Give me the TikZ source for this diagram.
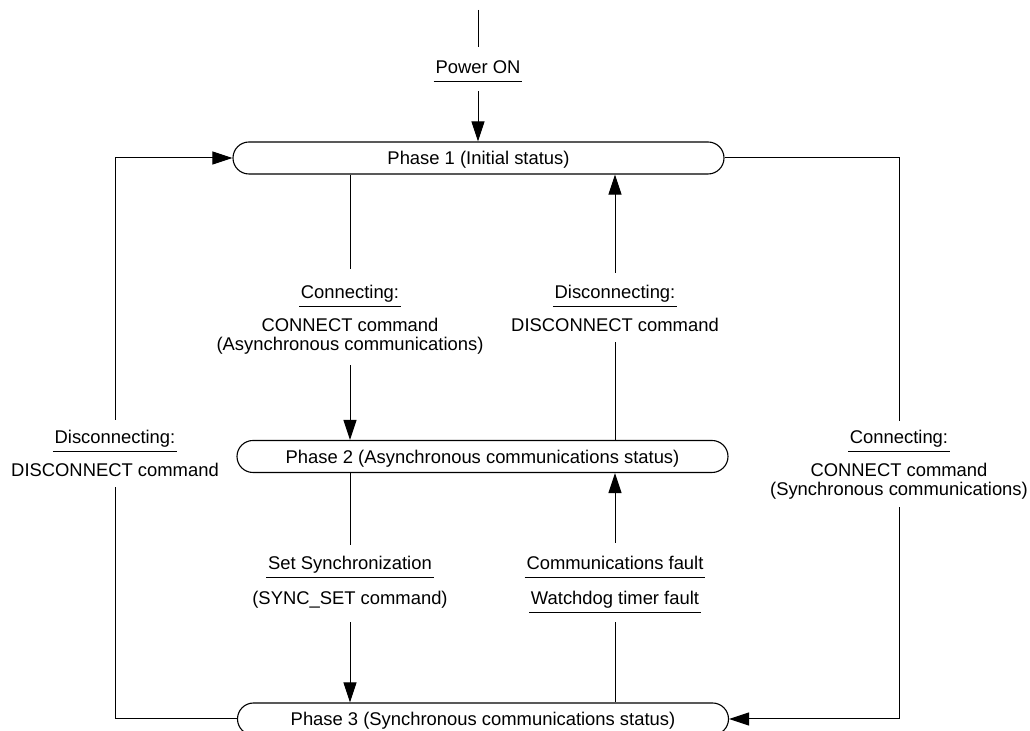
\documentclass[tikz,border=0pt]{standalone}
\usepackage{fontspec}
\newfontfamily\lsans{Liberation Sans}
\usetikzlibrary{arrows.meta}
\begin{document}
\begin{tikzpicture}[x=0.5pt,y=-0.5pt,
  txt/.style={font=\lsans\fontsize{9.2pt}{11pt}\selectfont, inner xsep=0.75pt, inner ysep=1.7pt, text height=8.6pt, text depth=2pt},
  phase/.style={draw, line width=0.55pt, rounded corners=8pt, minimum width=245.5pt, minimum height=16pt, inner sep=0pt,
    font=\lsans\fontsize{9.2pt}{11pt}\selectfont, text height=8.6pt, text depth=2pt},
  conn/.style={line width=0.5pt},
  arr/.style={conn, -{Triangle[length=10pt,width=6.5pt]}},
  uline/.style={line width=0.5pt}
]
\useasboundingbox (0,0) rectangle (1030,731);
\clip (0,0) rectangle (1030,731);

% phases
\node[phase] (p1) at (478.5,158) {Phase 1 (Initial status)};
\node[phase] (p2) at (482.5,456.5) {Phase 2 (Asynchronous communications status)};
\node[phase] (p3) at (483,719) {Phase 3 (Synchronous communications status)};

% labels
\coordinate (pwtop) at (478,10);
\node[txt] (pw) at (478,67) {Power ON};

\node[txt] (clA) at (350,292) {Connecting:};
\node[txt] (clB) at (350,325) {CONNECT command};
\node[txt] (clC) at (350,344) {(Asynchronous communications)};

\node[txt] (dA) at (615,292) {Disconnecting:};
\node[txt] (dB) at (615,325) {DISCONNECT command};

\node[txt] (ldA) at (115,437) {Disconnecting:};
\node[txt] (ldB) at (115,470) {DISCONNECT command};

\node[txt] (rcA) at (899,437) {Connecting:};
\node[txt] (rcB) at (899,470) {CONNECT command};
\node[txt] (rcC) at (899,489) {(Synchronous communications)};

\node[txt] (ssA) at (350,563) {Set Synchronization};
\node[txt] (ssB) at (350,598) {(SYNC\_SET command)};

\node[txt] (cfA) at (615,563) {Communications fault};
\node[txt] (wB) at (615,598) {Watchdog timer fault};

% underlines
\foreach \n in {pw,clA,dA,ldA,rcA,ssA,cfA,wB}
  \draw[uline] (\n.south west) -- (\n.south east);

% connectors
\draw[conn, shorten >=3pt] (pwtop) -- (pw.north);
\draw[arr, shorten <=5pt] (pw.south) -- (p1.north -| pw.south);

\draw[conn, shorten >=4.5pt] (p1.south -| clA.north) -- (clA.north);
\draw[arr, shorten <=3.5pt] (clC.south) -- (p2.north -| clC.south);

\draw[conn, shorten >=1.5pt] (p2.north -| dB.south) -- (dB.south);
\draw[arr, shorten <=2.5pt] (dA.north) -- (p1.south -| dA.north);

\draw[conn, shorten >=2pt] (p2.south -| ssA.north) -- (ssA.north);
\draw[arr, shorten <=5pt] (ssB.south) -- (p3.north -| ssB.south);

\draw[conn, shorten >=5pt] (p3.north -| wB.south) -- (wB.south);
\draw[arr, shorten <=3pt] (cfA.north) -- (p2.south -| cfA.north);

\draw[conn, shorten >=1.5pt] (p3.west) -| (ldB.south);
\draw[arr, shorten <=1.5pt] (ldA.north) |- (p1.west);

\draw[conn, shorten >=1pt] (p1.east) -| (rcA.north);
\draw[arr, shorten <=2pt] (rcC.south) |- (p3.east);
\end{tikzpicture}
\end{document}
